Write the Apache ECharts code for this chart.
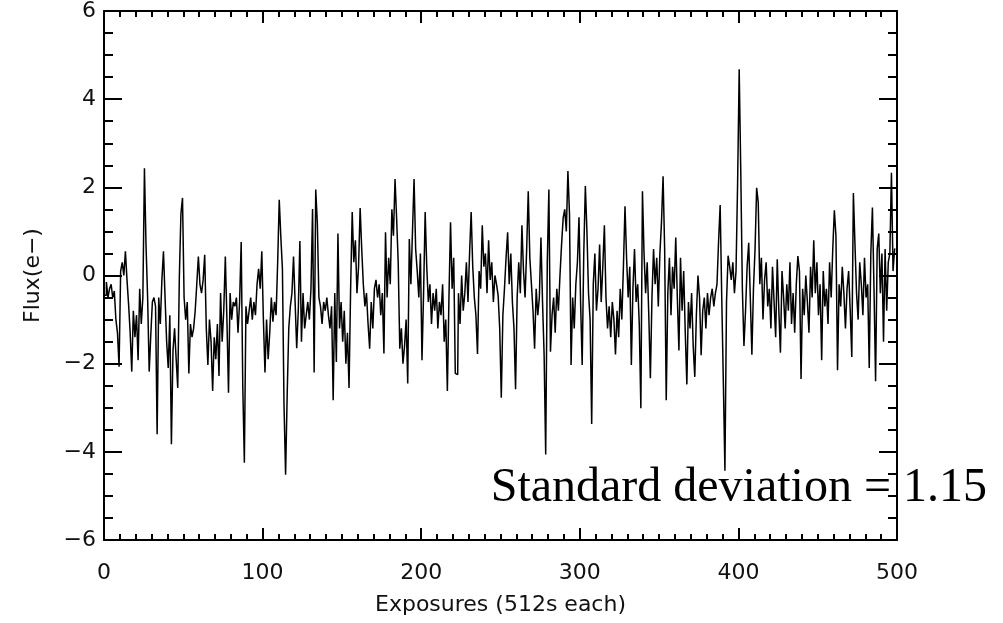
<!DOCTYPE html>
<html><head><meta charset="utf-8">
<script src="https://cdn.jsdelivr.net/npm/echarts@6/dist/echarts.min.js"></script>
<style>html,body{margin:0;padding:0;background:#fff}#c{width:1003px;height:623px}</style>
</head><body><div id="c"></div>
<script>
// Flux per exposure (e-), one value per exposure
const flux = [
-0.45,-0.45,-0.15,-0.5,-0.3,-0.2,-0.5,-0.35,-1.0,-1.3,
-2.07,0.1,0.3,0.0,0.55,-0.1,-0.65,-1.3,-2.18,-0.8,
-1.4,-0.9,-1.92,-0.3,-1.1,-0.5,2.43,0.68,-0.5,-2.18,
-1.35,-0.6,-0.5,-0.7,-3.6,-0.5,-1.1,-0.1,0.55,-0.5,
-1.5,-2.1,-0.9,-3.83,-1.7,-1.2,-1.9,-2.55,-0.05,1.4,
1.76,-0.5,-1.0,-0.6,-2.22,-1.1,-1.4,-1.2,-0.8,-0.2,
0.43,-0.2,-0.4,-0.1,0.47,-1.2,-2.03,-1.0,-1.5,-2.62,
-1.4,-1.9,-1.1,-2.28,-0.4,-1.5,-0.8,0.43,-1.0,-2.66,
-0.4,-1.0,-0.6,-0.7,-0.5,-1.3,-0.6,0.76,-2.5,-4.25,
-0.7,-1.1,-0.8,-0.5,-1.0,-0.6,-0.9,-0.2,0.15,-0.3,
0.55,-1.0,-2.2,-1.0,-1.9,-1.3,-0.5,-1.05,-0.6,-0.9,
0.3,1.72,0.87,0.15,-2.94,-4.52,-2.7,-1.2,-0.7,-0.4,
0.43,-0.6,-1.65,-0.8,0.78,-1.5,-0.4,-1.2,-0.9,-0.6,
-1.0,-0.3,1.51,-2.2,1.95,1.2,-0.5,-0.7,-1.1,-0.6,
-0.8,-0.5,-0.9,-1.2,-0.7,-2.83,-0.4,-1.96,0.95,-1.2,
-0.6,-1.5,-0.8,-2.0,-1.3,-2.55,-0.3,1.44,0.3,0.8,
-0.4,0.2,1.53,0.6,-0.2,-0.7,-0.4,-1.1,-1.66,-0.6,
-1.2,-0.3,-0.1,-0.5,-0.2,-0.9,-0.4,-1.77,0.98,-0.5,
0.4,-0.2,1.5,0.9,2.19,1.3,0.3,-1.66,-1.2,-2.0,
-1.6,-1.0,-2.45,0.83,-0.2,1.0,2.19,0.6,0.1,-0.5,
0.5,-1.92,-0.4,1.44,0.2,-0.6,-0.2,-1.1,-0.4,-0.8,
-0.3,-1.2,-0.6,-0.9,-0.2,-1.5,-1.0,-2.62,-0.5,1.21,
-0.3,0.4,-2.22,-2.25,-0.4,-1.1,0.0,-0.8,-0.4,0.3,
-0.6,0.5,1.44,0.2,-0.5,-0.9,-1.78,0.1,-0.3,1.14,
0.2,0.5,-0.4,0.8,-0.1,0.3,-0.6,0.0,-0.2,-0.45,
-1.2,-2.77,-0.9,-0.3,0.4,0.98,-0.2,0.5,-0.6,-1.2,
-2.58,-0.5,0.3,-0.4,1.14,0.1,-0.5,0.6,1.91,0.4,
-0.2,-0.8,-1.66,-0.3,-0.9,-0.5,0.86,-0.6,-1.8,-4.06,
0.3,1.95,-1.73,-0.9,-0.5,-1.3,-0.3,-0.8,0.0,0.7,
1.3,1.5,1.0,2.37,1.4,-2.03,-0.5,-1.2,-0.2,0.3,
1.32,-0.6,-2.03,0.5,2.03,1.0,-0.4,-1.0,-3.37,-0.2,
0.5,-0.8,-0.3,0.7,-0.6,0.2,1.14,-0.5,-1.2,-0.7,
-1.4,-0.6,-1.0,-1.79,-0.8,-1.4,-0.3,-1.0,0.2,1.57,
0.4,-0.5,0.2,-2.03,-0.3,0.6,-0.6,-0.2,-1.1,-3.01,
1.91,0.5,-0.4,0.3,-0.9,-2.33,-0.5,0.6,-0.2,0.4,
-0.7,0.5,1.2,2.25,0.6,-2.83,-0.4,0.4,-0.9,0.2,
-0.3,0.86,-0.5,-1.7,0.4,-0.8,0.1,-1.3,-2.47,-0.6,
-1.2,-0.4,-1.6,-2.3,-0.9,0.0,-0.5,-1.81,-0.8,-0.5,
-1.2,-0.4,-0.9,-0.5,-0.3,-0.7,-0.4,-0.2,0.77,1.6,
-0.5,-2.4,-4.43,-0.6,0.45,0.2,-0.1,0.3,-0.4,0.1,
2.1,4.68,2.34,-0.3,-1.6,-0.8,0.2,0.74,-0.5,-1.8,
-0.3,0.6,1.99,1.66,-0.2,0.4,-1.0,-0.1,0.3,-0.7,
-0.3,-1.2,0.2,-0.6,-1.4,0.37,-0.8,-1.75,0.1,-0.5,
-1.2,-0.2,-0.8,0.3,-1.1,-0.4,-1.3,-0.2,0.44,0.1,
-2.35,-0.3,-0.9,0.0,-0.6,-1.3,0.2,-0.5,0.8,-0.4,
0.3,-0.9,-0.2,-1.92,0.1,-0.7,-0.3,-1.1,0.3,-0.5,
0.6,1.48,0.9,-2.15,-0.2,-0.7,0.2,-0.4,-1.2,-0.3,
0.1,-0.8,-1.85,1.87,0.7,-0.4,-1.0,0.3,-0.2,-0.9,
0.4,-0.5,-0.2,-2.1,0.5,1.54,-0.3,-2.4,0.6,0.95,
-0.4,0.5,-1.5,0.6,-0.8,0.3,0.5,2.33,0.1,0.6
];
const xTicks = [0, 100, 200, 300, 400, 500];
const yTicks = [-6, -4, -2, 0, 2, 4, 6];
const xTitle = 'Exposures (512s each)';
const yTitle = 'Flux(e\u2212)';
const note = 'Standard deviation = 1.15';

const points = flux.map((v, i) => [i, v]);
const lblFont = 'DejaVu Sans';
const black = '#000';
const fmtY = v => (v < 0 ? '\u2212' + Math.abs(v) : String(v));

function xAx(pos, show) {
  return {
    type: 'value', position: pos,
    min: xTicks[0], max: xTicks[xTicks.length - 1], interval: xTicks[1] - xTicks[0],
    axisLine: { onZero: false, lineStyle: { color: black, width: 2 } },
    axisTick: { inside: true, length: 12, lineStyle: { color: black, width: 2 } },
    minorTick: { show: true, splitNumber: 10, length: 6, lineStyle: { color: black, width: 2 } },
    splitLine: { show: false }, minorSplitLine: { show: false },
    axisLabel: { show: show, margin: 22, fontSize: 22, fontFamily: lblFont, color: '#111' },
    name: show ? xTitle : '', nameLocation: 'middle', nameGap: 54,
    nameTextStyle: { fontSize: 22, fontFamily: lblFont, color: '#111' }
  };
}
function yAx(pos, show) {
  return {
    type: 'value', position: pos,
    min: yTicks[0], max: yTicks[yTicks.length - 1], interval: yTicks[1] - yTicks[0],
    axisLine: { onZero: false, lineStyle: { color: black, width: 2 } },
    axisTick: { inside: true, length: 18, lineStyle: { color: black, width: 2 } },
    minorTick: { show: true, splitNumber: 4, length: 9, lineStyle: { color: black, width: 2 } },
    splitLine: { show: false }, minorSplitLine: { show: false },
    axisLabel: { show: show, margin: 8, fontSize: 22, fontFamily: lblFont, color: '#111', formatter: fmtY },
    name: show ? yTitle : '', nameLocation: 'middle', nameGap: 60,
    nameTextStyle: { fontSize: 22, fontFamily: lblFont, color: '#111' }
  };
}

const chart = echarts.init(document.getElementById('c'), null, { renderer: 'canvas' });
chart.setOption({
  animation: false,
  backgroundColor: '#fff',
  grid: { left: 104, right: 106, top: 7, bottom: 83, containLabel: false },
  xAxis: [xAx('bottom', true), xAx('top', false)],
  yAxis: [yAx('left', true), yAx('right', false)],
  series: [{
    type: 'line', xAxisIndex: 0, yAxisIndex: 0, data: points,
    step: 'middle', showSymbol: false, symbol: 'none', clip: true,
    lineStyle: { color: black, width: 1.5 }
  }],
  graphic: [{
    type: 'text', x: 987, y: 488, z: 100,
    style: { text: note, font: '48px "Liberation Serif"', fill: black, align: 'right', verticalAlign: 'middle', textAlign: 'right', textVerticalAlign: 'middle' }
  }]
});
</script></body></html>
